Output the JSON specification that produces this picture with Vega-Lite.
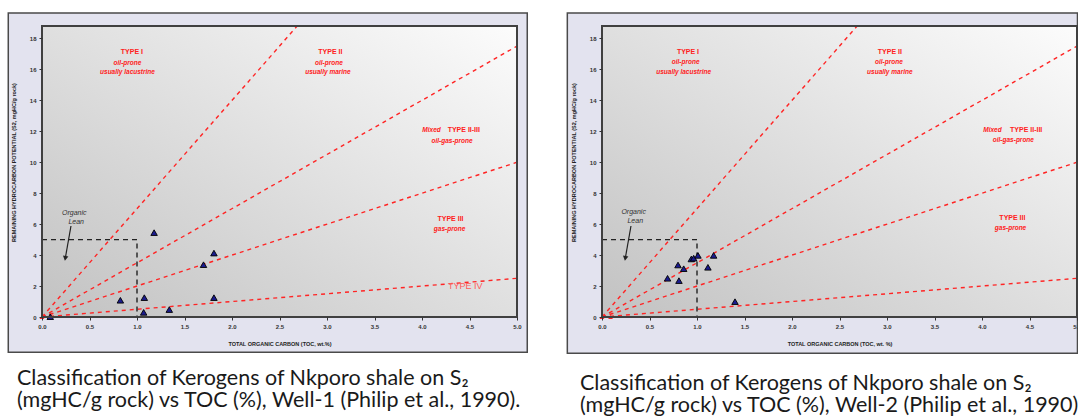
{
  "$schema": "https://vega.github.io/schema/vega-lite/v6.json",
  "background": "white",
  "padding": {"left": 7, "top": 12, "right": 0, "bottom": 0},
  "bounds": "flush",
  "spacing": 85,
  "datasets": {
    "lines": [
      {"id": "I", "x": 0, "y": 0}, {"id": "I", "x": 2.686, "y": 18.8},
      {"id": "II", "x": 0, "y": 0}, {"id": "II", "x": 5, "y": 17.5},
      {"id": "III", "x": 0, "y": 0}, {"id": "III", "x": 5, "y": 10},
      {"id": "IV", "x": 0, "y": 0}, {"id": "IV", "x": 5, "y": 2.5}
    ],
    "lean": [{"o": 1, "x": 0, "y": 5}, {"o": 2, "x": 1, "y": 5}, {"o": 3, "x": 1, "y": 0}],
    "arrow1": [{"x": 0.305, "y": 5.88, "x2": 0.245, "y2": 3.79}],
    "arrow2": [{"x": 0.305, "y": 5.88, "x2": 0.245, "y2": 3.79}],
    "lean1": [{"t": "Organic", "x": 0.34, "y": 6.73}, {"t": "Lean", "x": 0.36, "y": 6.14}],
    "lean2": [{"t": "Organic", "x": 0.333, "y": 6.8}, {"t": "Lean", "x": 0.35, "y": 6.22}],
    "bold1": [
      {"t": "TYPE I", "x": 0.946, "y": 17.1},
      {"t": "TYPE II", "x": 3.035, "y": 17.1},
      {"t": "TYPE II-III", "x": 4.44, "y": 12.09},
      {"t": "TYPE III", "x": 4.3, "y": 6.34}
    ],
    "ital1": [
      {"t": "oil-prone", "x": 0.9, "y": 16.4},
      {"t": "usually lacustrine", "x": 0.9, "y": 15.8},
      {"t": "oil-prone", "x": 3.02, "y": 16.4},
      {"t": "usually marine", "x": 3.01, "y": 15.8},
      {"t": "Mixed", "x": 4.1, "y": 12.09},
      {"t": "oil-gas-prone", "x": 4.316, "y": 11.37},
      {"t": "gas-prone", "x": 4.29, "y": 5.71}
    ],
    "bold2": [
      {"t": "TYPE I", "x": 0.905, "y": 17.1},
      {"t": "TYPE II", "x": 3.03, "y": 17.1},
      {"t": "TYPE II-III", "x": 4.465, "y": 12.1},
      {"t": "TYPE III", "x": 4.32, "y": 6.41}
    ],
    "ital2": [
      {"t": "oil-prone", "x": 0.88, "y": 16.45},
      {"t": "usually lacustrine", "x": 0.86, "y": 15.8},
      {"t": "oil-prone", "x": 3.02, "y": 16.45},
      {"t": "usually marine", "x": 3.03, "y": 15.8},
      {"t": "Mixed", "x": 4.11, "y": 12.1},
      {"t": "oil-gas-prone", "x": 4.33, "y": 11.43},
      {"t": "gas-prone", "x": 4.3, "y": 5.73}
    ],
    "type4": [{"t": "TYPE IV", "x": 4.456, "y": 2.0}],
    "origin1": [{"x": 0, "y": 0}],
    "origin2": [{"x": 0, "y": 0}, {"x": 0.09, "y": 0}],
    "w1": [
      {"toc": 0.087, "s2": 0.02},
      {"toc": 0.825, "s2": 1.08},
      {"toc": 1.077, "s2": 1.25},
      {"toc": 1.07, "s2": 0.3},
      {"toc": 1.18, "s2": 5.45},
      {"toc": 1.34, "s2": 0.48},
      {"toc": 1.7, "s2": 3.38},
      {"toc": 1.81, "s2": 4.13},
      {"toc": 1.81, "s2": 1.25}
    ],
    "w2": [
      {"toc": 0.69, "s2": 2.5},
      {"toc": 0.8, "s2": 3.36},
      {"toc": 0.81, "s2": 2.35},
      {"toc": 0.86, "s2": 3.12},
      {"toc": 0.94, "s2": 3.75},
      {"toc": 0.965, "s2": 3.8},
      {"toc": 1.01, "s2": 3.98},
      {"toc": 1.115, "s2": 3.21},
      {"toc": 1.175, "s2": 3.98},
      {"toc": 1.4, "s2": 0.99}
    ]
  },
  "hconcat": [
    {
      "width": 475,
      "height": 291,
      "title": {
        "text": ["Classification of Kerogens of Nkporo shale on S₂", "(mgHC/g rock) vs TOC (%), Well-1 (Philip et al., 1990)."],
        "orient": "bottom", "anchor": "start", "frame": "group", "dx": -25, "offset": 15
      },
      "layer": [
        {
          "data": {"values": [{}]},
          "mark": {"type": "rect", "fill": "#e3e3ef", "stroke": "#4a4a4a", "strokeWidth": 1.5, "clip": false},
          "encoding": {
            "x": {"datum": -0.355, "type": "quantitative", "scale": {"domain": [0, 5]}},
            "x2": {"datum": 5.108},
            "y": {"datum": -2.28, "type": "quantitative", "scale": {"domain": [0, 18.8]}},
            "y2": {"datum": 19.64}
          }
        },
        {
          "data": {"values": [{}]},
          "mark": {"type": "rect", "fill": {"gradient": "linear", "x1": 0, "y1": 1, "x2": 1, "y2": 0, "stops": [{"offset": 0, "color": "#c2c2c2"}, {"offset": 1, "color": "#fcfcfc"}]}},
          "encoding": {
            "x": {"datum": 0, "type": "quantitative", "scale": {"domain": [0, 5]}},
            "x2": {"datum": 5},
            "y": {"datum": 0, "type": "quantitative", "scale": {"domain": [0, 18.8]}},
            "y2": {"datum": 18.8}
          }
        },
        {
          "data": {"name": "lines"},
          "mark": {"type": "line", "stroke": "#ff2424", "strokeWidth": 1.4, "strokeDash": [4, 4], "clip": true},
          "encoding": {
            "x": {"field": "x", "type": "quantitative", "scale": {"domain": [0, 5]},
              "axis": {"title": "TOTAL ORGANIC CARBON (TOC, wt.%)", "zindex": 2, "values": [0, 0.5, 1, 1.5, 2, 2.5, 3, 3.5, 4, 4.5, 5], "format": ".1f", "labelFlush": false, "labelOverlap": false, "labelPadding": 3, "titlePadding": 12}},
            "y": {"field": "y", "type": "quantitative", "scale": {"domain": [0, 18.8]},
              "axis": {"title": "REMAINING HYDROCARBON POTENTIAL (S2, mgHC/g rock)", "zindex": 2, "values": [0, 2, 4, 6, 8, 10, 12, 14, 16, 18], "format": "d", "labelOverlap": false, "labelFlush": false, "labelPadding": 3, "titleX": -29, "titleY": 136, "titleBaseline": "middle"}},
            "detail": {"field": "id"}
          }
        },
        {
          "data": {"name": "lean"},
          "mark": {"type": "line", "stroke": "#222222", "strokeWidth": 1.4, "strokeDash": [5, 4]},
          "encoding": {
            "x": {"field": "x", "type": "quantitative", "scale": {"domain": [0, 5]}},
            "y": {"field": "y", "type": "quantitative", "scale": {"domain": [0, 18.8]}},
            "order": {"field": "o"}
          }
        },
        {
          "data": {"name": "arrow1"},
          "mark": {"type": "rule", "stroke": "#222222", "strokeWidth": 1.2},
          "encoding": {
            "x": {"field": "x", "type": "quantitative", "scale": {"domain": [0, 5]}},
            "y": {"field": "y", "type": "quantitative", "scale": {"domain": [0, 18.8]}},
            "x2": {"field": "x2"}, "y2": {"field": "y2"}
          }
        },
        {
          "data": {"name": "arrow1"},
          "mark": {"type": "point", "shape": "triangle-down", "filled": true, "fill": "#222222", "stroke": null, "size": 30, "angle": 10, "opacity": 1},
          "encoding": {
            "x": {"field": "x2", "type": "quantitative", "scale": {"domain": [0, 5]}},
            "y": {"field": "y2", "type": "quantitative", "scale": {"domain": [0, 18.8]}}
          }
        },
        {
          "data": {"name": "lean1"},
          "mark": {"type": "text", "font": "Liberation Sans", "fontSize": 7, "fontStyle": "italic", "color": "#333333"},
          "encoding": {
            "x": {"field": "x", "type": "quantitative", "scale": {"domain": [0, 5]}},
            "y": {"field": "y", "type": "quantitative", "scale": {"domain": [0, 18.8]}},
            "text": {"field": "t"}
          }
        },
        {
          "data": {"name": "bold1"},
          "mark": {"type": "text", "font": "Liberation Sans", "fontSize": 7, "fontWeight": "bold", "color": "#ff2020"},
          "encoding": {
            "x": {"field": "x", "type": "quantitative", "scale": {"domain": [0, 5]}},
            "y": {"field": "y", "type": "quantitative", "scale": {"domain": [0, 18.8]}},
            "text": {"field": "t"}
          }
        },
        {
          "data": {"name": "ital1"},
          "mark": {"type": "text", "font": "Liberation Sans", "fontSize": 6.5, "fontStyle": "italic", "fontWeight": "bold", "color": "#ff2020"},
          "encoding": {
            "x": {"field": "x", "type": "quantitative", "scale": {"domain": [0, 5]}},
            "y": {"field": "y", "type": "quantitative", "scale": {"domain": [0, 18.8]}},
            "text": {"field": "t"}
          }
        },
        {
          "data": {"name": "type4"},
          "mark": {"type": "text", "font": "Liberation Sans", "fontSize": 9, "color": "#ff5a5a"},
          "encoding": {
            "x": {"field": "x", "type": "quantitative", "scale": {"domain": [0, 5]}},
            "y": {"field": "y", "type": "quantitative", "scale": {"domain": [0, 18.8]}},
            "text": {"field": "t"}
          }
        },
        {
          "data": {"name": "origin1"},
          "mark": {"type": "point", "shape": "triangle-up", "filled": true, "fill": "#ff2020", "size": 22, "opacity": 1, "clip": false},
          "encoding": {
            "x": {"field": "x", "type": "quantitative", "scale": {"domain": [0, 5]}},
            "y": {"field": "y", "type": "quantitative", "scale": {"domain": [0, 18.8]}}
          }
        },
        {
          "data": {"name": "w1"},
          "mark": {"type": "point", "shape": "triangle-up", "filled": true, "fill": "#1b1b8f", "stroke": "#000000", "strokeWidth": 0.9, "size": 42, "opacity": 1},
          "encoding": {
            "x": {"field": "toc", "type": "quantitative", "scale": {"domain": [0, 5]}},
            "y": {"field": "s2", "type": "quantitative", "scale": {"domain": [0, 18.8]}}
          }
        },
        {
          "data": {"values": [{}]},
          "mark": {"type": "rect", "fillOpacity": 0, "stroke": "#404040", "strokeWidth": 2},
          "encoding": {
            "x": {"datum": 0, "type": "quantitative", "scale": {"domain": [0, 5]}},
            "x2": {"datum": 5},
            "y": {"datum": 0, "type": "quantitative", "scale": {"domain": [0, 18.8]}},
            "y2": {"datum": 18.8}
          }
        }
      ]
    },
    {
      "width": 475,
      "height": 291,
      "title": {
        "text": ["Classification of Kerogens of Nkporo shale on S₂", "(mgHC/g rock) vs TOC (%), Well-2 (Philip et al., 1990)."],
        "orient": "bottom", "anchor": "start", "frame": "group", "dx": -22, "offset": 19
      },
      "layer": [
        {
          "data": {"values": [{}]},
          "mark": {"type": "rect", "fill": "#e3e3ef", "stroke": "#4a4a4a", "strokeWidth": 1.5, "clip": false},
          "encoding": {
            "x": {"datum": -0.365, "type": "quantitative", "scale": {"domain": [0, 5]}},
            "x2": {"datum": 5.005},
            "y": {"datum": -2.34, "type": "quantitative", "scale": {"domain": [0, 18.8]}},
            "y2": {"datum": 19.64}
          }
        },
        {
          "data": {"values": [{}]},
          "mark": {"type": "rect", "fill": {"gradient": "linear", "x1": 0, "y1": 1, "x2": 1, "y2": 0, "stops": [{"offset": 0, "color": "#c2c2c2"}, {"offset": 1, "color": "#fcfcfc"}]}},
          "encoding": {
            "x": {"datum": 0, "type": "quantitative", "scale": {"domain": [0, 5]}},
            "x2": {"datum": 5},
            "y": {"datum": 0, "type": "quantitative", "scale": {"domain": [0, 18.8]}},
            "y2": {"datum": 18.8}
          }
        },
        {
          "data": {"name": "lines"},
          "mark": {"type": "line", "stroke": "#ff2424", "strokeWidth": 1.4, "strokeDash": [4, 4], "clip": true},
          "encoding": {
            "x": {"field": "x", "type": "quantitative", "scale": {"domain": [0, 5]},
              "axis": {"title": "TOTAL ORGANIC CARBON (TOC, wt. %)", "zindex": 2, "values": [0, 0.5, 1, 1.5, 2, 2.5, 3, 3.5, 4, 4.5, 5], "format": ".1f", "labelFlush": false, "labelOverlap": false, "labelPadding": 3, "titlePadding": 12}},
            "y": {"field": "y", "type": "quantitative", "scale": {"domain": [0, 18.8]},
              "axis": {"title": "REMAINING HYDROCARBON POTENTIAL (S2, mgHC/g rock)", "zindex": 2, "values": [0, 2, 4, 6, 8, 10, 12, 14, 16, 18], "format": "d", "labelOverlap": false, "labelFlush": false, "labelPadding": 3, "titleX": -29, "titleY": 136, "titleBaseline": "middle"}},
            "detail": {"field": "id"}
          }
        },
        {
          "data": {"name": "lean"},
          "mark": {"type": "line", "stroke": "#222222", "strokeWidth": 1.4, "strokeDash": [5, 4]},
          "encoding": {
            "x": {"field": "x", "type": "quantitative", "scale": {"domain": [0, 5]}},
            "y": {"field": "y", "type": "quantitative", "scale": {"domain": [0, 18.8]}},
            "order": {"field": "o"}
          }
        },
        {
          "data": {"name": "arrow2"},
          "mark": {"type": "rule", "stroke": "#222222", "strokeWidth": 1.2},
          "encoding": {
            "x": {"field": "x", "type": "quantitative", "scale": {"domain": [0, 5]}},
            "y": {"field": "y", "type": "quantitative", "scale": {"domain": [0, 18.8]}},
            "x2": {"field": "x2"}, "y2": {"field": "y2"}
          }
        },
        {
          "data": {"name": "arrow2"},
          "mark": {"type": "point", "shape": "triangle-down", "filled": true, "fill": "#222222", "stroke": null, "size": 30, "angle": 10, "opacity": 1},
          "encoding": {
            "x": {"field": "x2", "type": "quantitative", "scale": {"domain": [0, 5]}},
            "y": {"field": "y2", "type": "quantitative", "scale": {"domain": [0, 18.8]}}
          }
        },
        {
          "data": {"name": "lean2"},
          "mark": {"type": "text", "font": "Liberation Sans", "fontSize": 7, "fontStyle": "italic", "color": "#333333"},
          "encoding": {
            "x": {"field": "x", "type": "quantitative", "scale": {"domain": [0, 5]}},
            "y": {"field": "y", "type": "quantitative", "scale": {"domain": [0, 18.8]}},
            "text": {"field": "t"}
          }
        },
        {
          "data": {"name": "bold2"},
          "mark": {"type": "text", "font": "Liberation Sans", "fontSize": 7, "fontWeight": "bold", "color": "#ff2020"},
          "encoding": {
            "x": {"field": "x", "type": "quantitative", "scale": {"domain": [0, 5]}},
            "y": {"field": "y", "type": "quantitative", "scale": {"domain": [0, 18.8]}},
            "text": {"field": "t"}
          }
        },
        {
          "data": {"name": "ital2"},
          "mark": {"type": "text", "font": "Liberation Sans", "fontSize": 6.5, "fontStyle": "italic", "fontWeight": "bold", "color": "#ff2020"},
          "encoding": {
            "x": {"field": "x", "type": "quantitative", "scale": {"domain": [0, 5]}},
            "y": {"field": "y", "type": "quantitative", "scale": {"domain": [0, 18.8]}},
            "text": {"field": "t"}
          }
        },
        {
          "data": {"name": "origin2"},
          "mark": {"type": "point", "shape": "triangle-up", "filled": true, "fill": "#ff2020", "size": 22, "opacity": 1, "clip": false},
          "encoding": {
            "x": {"field": "x", "type": "quantitative", "scale": {"domain": [0, 5]}},
            "y": {"field": "y", "type": "quantitative", "scale": {"domain": [0, 18.8]}}
          }
        },
        {
          "data": {"name": "w2"},
          "mark": {"type": "point", "shape": "triangle-up", "filled": true, "fill": "#1b1b8f", "stroke": "#000000", "strokeWidth": 0.9, "size": 42, "opacity": 1},
          "encoding": {
            "x": {"field": "toc", "type": "quantitative", "scale": {"domain": [0, 5]}},
            "y": {"field": "s2", "type": "quantitative", "scale": {"domain": [0, 18.8]}}
          }
        },
        {
          "data": {"values": [{}]},
          "mark": {"type": "rect", "fillOpacity": 0, "stroke": "#404040", "strokeWidth": 2},
          "encoding": {
            "x": {"datum": 0, "type": "quantitative", "scale": {"domain": [0, 5]}},
            "x2": {"datum": 5},
            "y": {"datum": 0, "type": "quantitative", "scale": {"domain": [0, 18.8]}},
            "y2": {"datum": 18.8}
          }
        }
      ]
    }
  ],
  "config": {
    "view": {"stroke": null},
    "axis": {
      "domain": false, "grid": false, "zindex": 2,
      "labelFont": "Liberation Sans", "labelFontSize": 6, "labelFontWeight": "bold", "labelColor": "#333333",
      "labelOverlap": false, "labelBound": false, "labelSeparation": 0,
      "tickColor": "#333333", "tickSize": 3, "tickWidth": 1,
      "titleFont": "Liberation Sans", "titleFontSize": 5.5, "titleFontWeight": "bold", "titleColor": "#222222"
    },
    "axisY": {"labelOverlap": false, "tickCount": 10},
    "axisX": {"labelOverlap": false, "labelFlush": false},
    "axisQuantitative": {"labelOverlap": false},
    "title": {"font": "Lato", "fontSize": 21.5, "fontWeight": "normal", "color": "#1a1a1a", "lineHeight": 22}
  }
}
